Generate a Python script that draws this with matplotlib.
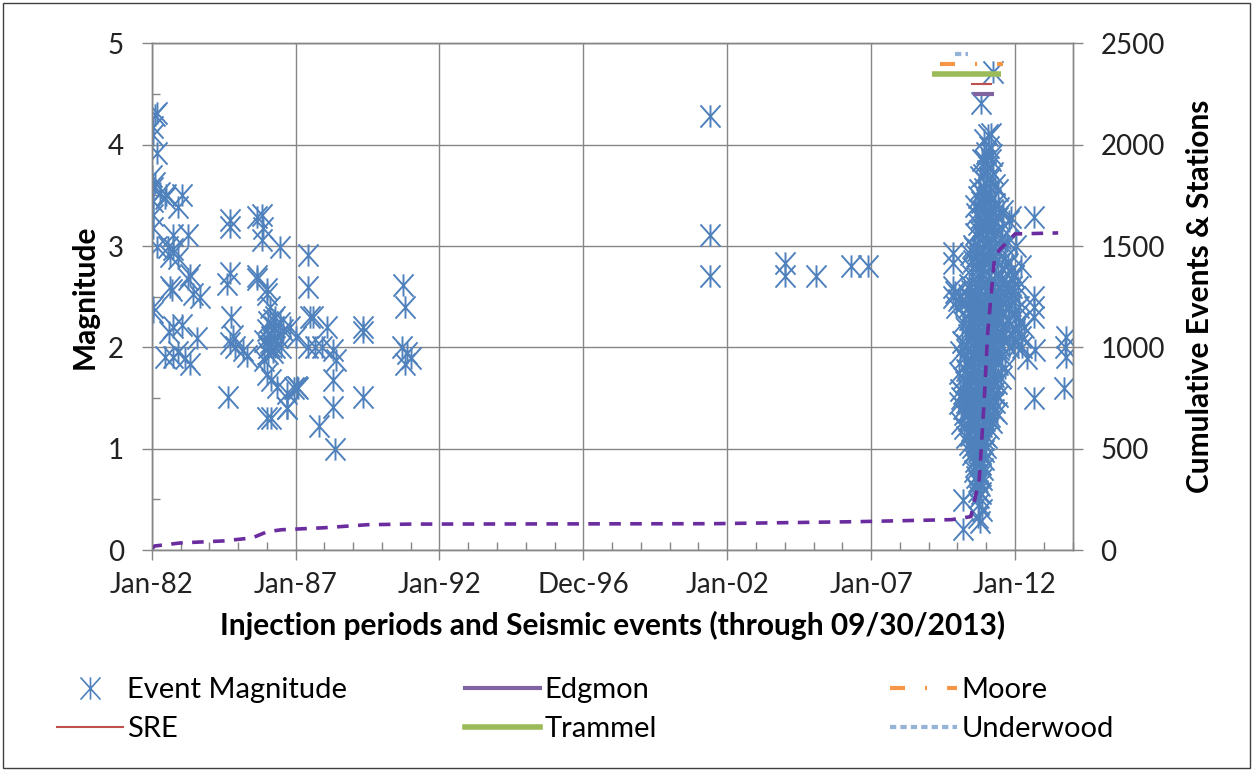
import matplotlib
matplotlib.use("Agg")
import matplotlib.pyplot as plt
from matplotlib.path import Path
from matplotlib.lines import Line2D
from matplotlib.patches import Rectangle
from matplotlib.ticker import FixedLocator, MultipleLocator

plt.rcParams["font.family"] = ["Lato", "DejaVu Sans"]

# x axis is in decimal years
X_TICKS = [1982, 1987, 1992, 1997, 2002, 2007, 2012]
X_TICK_LABELS = ["Jan-82", "Jan-87", "Jan-92", "Dec-96", "Jan-02", "Jan-07", "Jan-12"]

# (year, magnitude)
events_early = [
    (1982.06, 4.18), (1982.12, 4.29), (1982.18, 4.31), (1982.06, 4.10), (1982.20, 3.92),
    (1982.00, 3.69), (1982.10, 3.62), (1982.06, 3.57), (1982.28, 3.52), (1982.50, 3.50),
    (1982.46, 3.47), (1983.04, 3.50), (1982.92, 3.39), (1982.06, 3.45), (1982.06, 3.31),
    (1982.06, 3.18), (1982.75, 3.11), (1983.27, 3.11), (1982.17, 2.99), (1982.58, 2.99),
    (1982.75, 2.97), (1982.92, 2.88), (1982.64, 2.90), (1982.64, 2.60), (1983.27, 2.68),
    (1982.70, 2.57), (1983.33, 2.71), (1983.45, 2.53), (1983.68, 2.50), (1982.06, 2.40),
    (1982.06, 2.35), (1982.75, 2.20), (1983.04, 2.22), (1983.56, 2.09), (1982.46, 1.91),
    (1982.75, 1.91), (1983.33, 1.84), (1982.90, 1.95), (1983.15, 1.90), (1982.60, 2.15),
    (1984.72, 3.26), (1984.72, 3.19), (1985.65, 3.29), (1985.82, 3.31), (1985.88, 3.18),
    (1985.82, 3.06), (1986.45, 2.99), (1984.60, 2.63), (1984.72, 2.73), (1985.65, 2.68),
    (1985.65, 2.70), (1986.00, 2.58), (1986.00, 2.53), (1986.10, 2.40), (1986.20, 2.27),
    (1986.45, 2.24), (1986.57, 2.17), (1986.00, 2.17), (1985.90, 2.06), (1986.10, 2.01),
    (1986.05, 1.94), (1985.90, 1.88), (1986.00, 1.74), (1986.15, 1.68), (1986.34, 1.61),
    (1986.69, 1.55), (1986.69, 1.40), (1986.00, 1.30), (1986.15, 1.30), (1984.66, 1.51),
    (1984.83, 2.11), (1984.77, 2.30), (1984.72, 2.04), (1985.18, 1.97), (1985.30, 1.92),
    (1984.90, 2.00), (1986.05, 2.00), (1986.10, 2.05), (1986.15, 2.10), (1986.20, 1.95),
    (1986.25, 2.20), (1986.30, 2.30), (1986.05, 2.25), (1986.30, 2.00), (1986.40, 2.10),
    (1986.50, 2.00), (1986.80, 2.20), (1987.00, 2.10), (1987.10, 1.60), (1986.95, 1.60),
    (1987.44, 2.91), (1987.44, 2.60), (1987.50, 2.30), (1987.60, 2.30), (1988.08, 2.20),
    (1989.35, 2.20), (1989.35, 2.15), (1990.74, 2.62), (1990.80, 2.40), (1990.70, 2.00),
    (1990.87, 1.94), (1990.80, 1.84), (1991.00, 1.90), (1987.44, 2.00), (1987.68, 2.00),
    (1987.90, 2.00), (1988.30, 1.97), (1988.40, 1.88), (1988.30, 1.68), (1988.30, 1.41),
    (1989.35, 1.51), (1987.80, 1.22), (1988.36, 1.00), (1986.70, 1.40), (1987.05, 1.61),
]

events_mid = [
    (2001.40, 4.28), (2001.40, 3.11), (2001.40, 2.70), (2004.00, 2.83), (2004.00, 2.70),
    (2005.09, 2.70), (2006.30, 2.80), (2006.88, 2.80),
]

# 2009-2010 early outliers, the 2012-2013 stragglers and the top/bottom tails
events_edges = [
    (2009.83, 2.93), (2009.83, 2.83), (2009.85, 2.60), (2009.85, 2.50), (2010.02, 2.47),
    (2009.95, 2.40), (2010.10, 2.50), (2009.90, 2.55), (2010.18, 0.49), (2010.18, 0.21),
    (2010.70, 0.33), (2010.82, 0.56), (2011.22, 4.72), (2010.82, 4.41), (2011.17, 4.11),
    (2011.86, 3.29), (2012.67, 3.29), (2012.67, 2.50), (2012.67, 2.40), (2012.67, 2.30),
    (2012.70, 1.97), (2013.77, 2.10), (2013.77, 1.91), (2013.75, 2.00), (2013.70, 1.60),
    (2012.67, 1.50), (2012.25, 2.00), (2012.30, 2.20), (2012.10, 2.60), (2012.20, 2.80),
    (2012.05, 3.00), (2012.40, 1.90), (2012.15, 2.40), (2012.00, 2.50), (2011.95, 2.70),
]

# the 2010-2011 swarm
events_swarm = [
    (2010.93, 4.05), (2011.10, 3.98), (2011.00, 3.92), (2011.15, 3.85), (2010.85, 3.85),
    (2011.05, 3.78), (2011.25, 3.72), (2010.80, 3.68), (2010.98, 3.62), (2011.30, 3.60),
    (2010.90, 3.70), (2011.20, 3.90), (2010.75, 3.55), (2011.40, 3.55), (2011.08, 3.52),
    (2010.88, 3.50),
    (2010.70, 3.48), (2010.82, 3.44), (2011.00, 3.40), (2011.15, 3.46), (2011.30, 3.42),
    (2011.45, 3.38), (2010.65, 3.32), (2010.78, 3.28), (2010.95, 3.25), (2011.10, 3.30),
    (2011.25, 3.20), (2011.40, 3.28), (2011.55, 3.18), (2010.60, 3.12), (2010.74, 3.15),
    (2010.90, 3.08), (2011.05, 3.05), (2011.20, 3.10), (2011.35, 3.02), (2011.50, 3.08),
    (2011.65, 3.00), (2010.55, 3.00), (2010.68, 2.96), (2011.80, 3.25), (2011.72, 3.05),
    (2010.85, 3.35), (2011.00, 3.18), (2011.60, 3.35),
    (2010.45, 2.92), (2010.55, 2.85), (2010.65, 2.90), (2010.75, 2.82), (2010.85, 2.95),
    (2010.95, 2.86), (2011.05, 2.92), (2011.15, 2.80), (2011.25, 2.90), (2011.35, 2.84),
    (2011.45, 2.94), (2011.55, 2.78), (2011.65, 2.88), (2011.75, 2.82), (2011.85, 2.75),
    (2011.95, 2.70), (2010.40, 2.62), (2010.50, 2.70), (2010.60, 2.60), (2010.70, 2.68),
    (2010.80, 2.58), (2010.90, 2.72), (2011.00, 2.62), (2011.10, 2.70), (2011.20, 2.58),
    (2011.30, 2.66), (2011.40, 2.60), (2011.50, 2.68), (2011.60, 2.56), (2011.70, 2.64),
    (2011.80, 2.55), (2011.90, 2.60), (2010.35, 2.52),
    (2010.25, 2.45), (2010.35, 2.40), (2010.45, 2.48), (2010.55, 2.38), (2010.65, 2.46),
    (2010.75, 2.42), (2010.85, 2.36), (2010.95, 2.48), (2011.05, 2.40), (2011.15, 2.44),
    (2011.25, 2.36), (2011.35, 2.46), (2011.45, 2.40), (2011.55, 2.34), (2011.65, 2.44),
    (2011.75, 2.38), (2011.85, 2.42), (2011.95, 2.35), (2012.05, 2.30), (2012.15, 2.25),
    (2010.20, 2.25), (2010.30, 2.18), (2010.40, 2.28), (2010.50, 2.20), (2010.60, 2.30),
    (2010.70, 2.15), (2010.80, 2.25), (2010.90, 2.20), (2011.00, 2.28), (2011.10, 2.16),
    (2011.20, 2.24), (2011.30, 2.20), (2011.40, 2.30), (2011.50, 2.14), (2011.60, 2.22),
    (2011.70, 2.18), (2011.80, 2.26), (2011.90, 2.12), (2012.00, 2.18), (2012.20, 2.10),
    (2010.15, 2.05), (2010.28, 2.02), (2010.42, 2.08), (2010.58, 2.04), (2010.72, 2.10),
    (2010.88, 2.02), (2011.02, 2.06), (2011.18, 2.00), (2011.32, 2.08), (2011.48, 2.02),
    (2011.62, 2.06), (2011.78, 2.00), (2011.92, 2.04), (2012.10, 2.02),
    (2010.10, 1.95), (2010.22, 1.90), (2010.34, 1.96), (2010.46, 1.88), (2010.58, 1.94),
    (2010.70, 1.86), (2010.82, 1.92), (2010.94, 1.88), (2011.06, 1.95), (2011.18, 1.85),
    (2011.30, 1.90), (2011.42, 1.84), (2011.54, 1.92), (2011.66, 1.80), (2010.05, 1.75),
    (2010.18, 1.70), (2010.30, 1.78), (2010.42, 1.72), (2010.54, 1.76), (2010.66, 1.68),
    (2010.78, 1.74), (2010.90, 1.70), (2011.02, 1.78), (2011.14, 1.66), (2011.26, 1.72),
    (2011.38, 1.65), (2011.50, 1.70), (2010.08, 1.58), (2010.20, 1.55), (2010.32, 1.60),
    (2010.44, 1.52), (2010.56, 1.58), (2010.68, 1.54), (2010.80, 1.60), (2010.92, 1.52),
    (2011.04, 1.56), (2011.16, 1.50), (2011.28, 1.55), (2011.40, 1.52),
    (2010.05, 1.45), (2010.18, 1.40), (2010.30, 1.46), (2010.42, 1.38), (2010.54, 1.44),
    (2010.66, 1.36), (2010.78, 1.42), (2010.90, 1.34), (2011.02, 1.40), (2011.14, 1.32),
    (2011.26, 1.38), (2011.38, 1.35), (2010.12, 1.25), (2010.24, 1.20), (2010.36, 1.28),
    (2010.48, 1.18), (2010.60, 1.24), (2010.72, 1.16), (2010.84, 1.22), (2010.96, 1.14),
    (2011.08, 1.20), (2010.40, 1.05), (2010.52, 1.02), (2010.64, 1.08), (2010.76, 1.00),
    (2010.88, 1.06), (2011.00, 1.02),
    (2010.52, 0.95), (2010.62, 0.88), (2010.72, 0.92), (2010.82, 0.85), (2010.92, 0.90),
    (2010.56, 0.78), (2010.66, 0.72), (2010.76, 0.76), (2010.86, 0.70), (2010.60, 0.62),
    (2010.70, 0.58), (2010.80, 0.64), (2010.74, 0.45), (2010.84, 0.40),
]

# the densest part of the swarm, read as a second pass
events_core = [
    (2010.62, 3.40), (2010.98, 3.46), (2011.22, 3.36), (2010.72, 3.22), (2011.02, 3.12),
    (2011.32, 3.14), (2010.58, 2.98), (2010.88, 2.90), (2011.12, 2.96), (2011.42, 2.72),
    (2010.52, 2.78), (2010.78, 2.74), (2011.08, 2.78), (2011.28, 2.52), (2010.48, 2.56),
    (2010.68, 2.52), (2010.98, 2.56), (2011.18, 2.50), (2011.48, 2.50), (2010.42, 2.36),
    (2010.62, 2.40), (2010.82, 2.32), (2011.02, 2.34), (2011.22, 2.30), (2011.42, 2.38),
    (2010.36, 2.12), (2010.56, 2.14), (2010.76, 2.20), (2010.96, 2.12), (2011.16, 2.12),
    (2011.36, 2.14), (2011.56, 2.10), (2010.34, 1.86), (2010.52, 1.84), (2010.64, 1.98),
    (2010.76, 1.80), (2010.88, 1.98), (2011.00, 1.84), (2011.12, 1.98), (2011.24, 1.80),
    (2011.36, 1.96), (2010.26, 1.66), (2010.38, 1.64), (2010.50, 1.68), (2010.62, 1.62),
    (2010.74, 1.66), (2010.86, 1.62), (2010.98, 1.66), (2011.10, 1.62), (2011.22, 1.64),
    (2010.14, 1.50), (2010.28, 1.52), (2010.50, 1.48), (2010.74, 1.48), (2010.96, 1.46),
    (2011.10, 1.46), (2011.32, 1.46), (2010.24, 1.34), (2010.36, 1.36), (2010.48, 1.32),
    (2010.60, 1.30), (2010.72, 1.30), (2010.84, 1.32), (2010.96, 1.28), (2011.08, 1.30),
    (2011.20, 1.26), (2010.30, 1.12), (2010.44, 1.14), (2010.56, 1.10), (2010.68, 1.12),
    (2010.80, 1.10), (2010.92, 1.10), (2011.04, 1.12), (2010.58, 0.98), (2010.70, 0.98),
    (2010.82, 0.96), (2010.94, 0.98), (2010.66, 0.84), (2010.78, 0.86), (2010.88, 0.80),
    (2010.70, 0.68), (2010.82, 0.74), (2010.76, 0.52), (2010.78, 0.28), (2010.92, 3.56),
    (2011.12, 3.66), (2011.02, 3.74), (2010.96, 3.84), (2011.06, 4.10), (2011.00, 3.30),
    (2010.84, 3.16), (2011.16, 3.24), (2011.26, 2.98), (2010.94, 2.42), (2011.06, 2.22),
    (2010.86, 2.08), (2011.26, 2.04), (2011.46, 1.98), (2010.68, 1.40), (2010.90, 1.40),
]

# cumulative events & stations (right axis)
cum_years = [1982.0, 1982.1, 1983.0, 1984.5, 1985.5, 1986.0, 1986.5, 1988.0, 1989.5,
             1991.0, 2001.5, 2004.0, 2006.5, 2009.8, 2010.47, 2010.76, 2010.93, 2011.05,
             2011.28, 2011.45, 2011.80, 2012.0, 2013.5]
cum_counts = [5, 20, 35, 45, 60, 90, 100, 110, 125, 128, 130, 135, 140, 150, 165, 350,
              740, 1070, 1430, 1480, 1530, 1560, 1565]

# injection periods, drawn against the right axis
inj_names = ["Edgmon", "Moore", "SRE", "Trammel", "Underwood"]
inj_start = [2010.55, 2009.38, 2010.47, 2009.13, 2009.93]
inj_end = [2011.28, 2011.57, 2011.20, 2011.51, 2010.38]
inj_level = [2250, 2400, 2300, 2350, 2450]

BLUE = "#4F81BD"
GRID = "#868686"
inj_style = {
    "Edgmon": dict(color="#8064A2", lw=3.0, ls="-"),
    "Moore": dict(color="#F79646", lw=3.0, ls=(0, (3.6, 4.8, 0.5, 4.8))),
    "SRE": dict(color="#C0504D", lw=1.5, ls="-"),
    "Trammel": dict(color="#9BBB59", lw=4.0, ls="-"),
    "Underwood": dict(color="#95B3D7", lw=3.0, ls=(0, (1.5, 1.0))),
}

star = Path([(0, -1), (0, 1), (-0.9, -1), (0.9, 1), (-0.9, 1), (0.9, -1)],
            [Path.MOVETO, Path.LINETO] * 3)

fig = plt.figure(figsize=(12.54, 7.71), dpi=100)
ax = fig.add_axes([0.121, 0.2866, 0.7343, 0.657])
ax2 = ax.twinx()

events = events_early + events_mid + events_edges + events_swarm + events_core
ev_x = [e[0] for e in events]
ev_y = [e[1] for e in events]
ax.plot(ev_x, ev_y, ls="none", marker=star, ms=16, mec=BLUE, mfc="none", mew=1.4)

ax2.plot(cum_years, cum_counts, color="#6A2C9E", lw=2.6, dashes=(3.2, 2.6))
for name, s, e, lvl in zip(inj_names, inj_start, inj_end, inj_level):
    ax2.plot([s, e], [lvl, lvl], solid_capstyle="butt", dash_capstyle="butt", **inj_style[name])

ax.set_xlim(1982, 2014)
ax.set_ylim(0, 5)
ax2.set_ylim(0, 2500)
ax.xaxis.set_major_locator(FixedLocator(X_TICKS))
ax.set_xticklabels(X_TICK_LABELS)
ax.xaxis.set_minor_locator(MultipleLocator(1))
ax.yaxis.set_major_locator(MultipleLocator(1))
ax.yaxis.set_minor_locator(MultipleLocator(0.5))
ax2.yaxis.set_major_locator(MultipleLocator(500))

ax.grid(True, which="major", color=GRID, lw=1.0)
ax.set_axisbelow(True)
for a in (ax, ax2):
    for sp in a.spines.values():
        sp.set_color(GRID)
        sp.set_linewidth(1.0)
ax.tick_params(which="major", direction="out", length=7, width=1.0, color=GRID,
               labelsize=20, labelcolor="#222222", pad=13)
ax.tick_params(which="minor", direction="in", length=6, width=1.0, color=GRID)
ax.tick_params(axis="x", which="major", pad=9)
ax2.tick_params(which="major", direction="out", length=7, width=1.0, color=GRID,
                labelsize=20, labelcolor="#222222", pad=13)

ax.set_ylabel("Magnitude", fontsize=21.5, fontweight="bold", labelpad=6.5)
ax2.set_ylabel("Cumulative Events & Stations", fontsize=21.5, fontweight="bold", labelpad=15)
ax.set_xlabel("Injection periods and Seismic events (through 09/30/2013)",
              fontsize=21.5, fontweight="bold", labelpad=9)

# legend: three columns, two rows, placed by hand
ev_handle = Line2D([], [], ls="none", marker=star, ms=16, mec=BLUE, mfc="none", mew=1.2)
inj_handles = {n: Line2D([], [], **inj_style[n]) for n in inj_names}
columns = [
    ([ev_handle, inj_handles["SRE"]], ["Event Magnitude", "SRE"], 0.0455, 2.26),
    ([inj_handles["Edgmon"], inj_handles["Trammel"]], ["Edgmon", "Trammel"], 0.3708, 2.57),
    ([inj_handles["Moore"], inj_handles["Underwood"]], ["Moore", "Underwood"], 0.7097, 2.3),
]
for handles, labels, x0, hl in columns:
    fig.legend(handles, labels, loc="upper left", bbox_to_anchor=(x0, 0.122),
               frameon=False, fontsize=21, handlelength=hl, handletextpad=0.15,
               borderpad=0, borderaxespad=0, labelspacing=0.45)

fig.patches.append(Rectangle((0.002, 0.004), 0.995, 0.992, transform=fig.transFigure,
                             fill=False, ec="#404040", lw=1.0))

fig.savefig("out.png", dpi=100)
